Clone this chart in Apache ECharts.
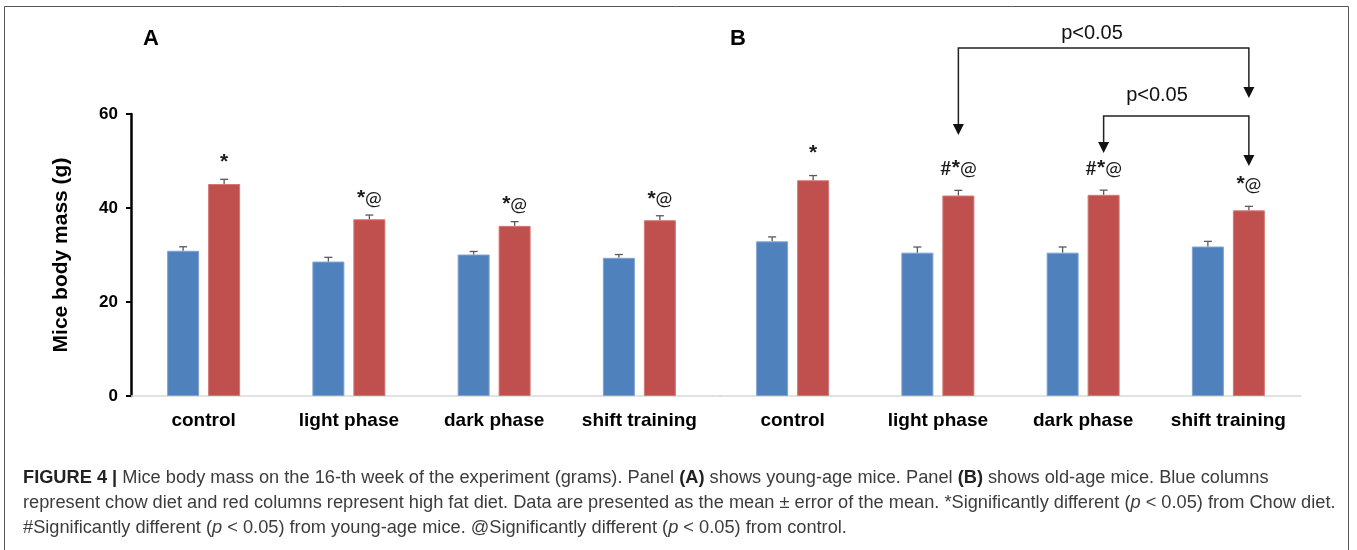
<!DOCTYPE html>
<html>
<head>
<meta charset="utf-8">
<script src="https://cdn.jsdelivr.net/npm/echarts@6/dist/echarts.min.js"></script>
<style>
html,body{margin:0;padding:0;background:#fff;}
#chart{width:1357px;height:550px;}
</style>
</head>
<body>
<div id="chart"></div>
<script>
// ---- data ----
const categories = ['control', 'light phase', 'dark phase', 'shift training'];
const yTicks = [0, 20, 40, 60];
// Panel A: young-age mice
const youngChow = [30.9, 28.6, 30.1, 29.4];
const youngChowErr = [0.85, 0.9, 0.65, 0.7];
const youngHFD = [45.1, 37.6, 36.2, 37.4];
const youngHFDErr = [1.0, 0.9, 0.9, 0.95];
const youngMarks = ['*', '*@', '*@', '*@'];
// Panel B: old-age mice
const oldChow = [32.9, 30.5, 30.5, 31.8];
const oldChowErr = [0.95, 1.2, 1.2, 1.1];
const oldHFD = [45.9, 42.65, 42.8, 39.5];
const oldHFDErr = [1.0, 1.1, 1.0, 0.85];
const oldMarks = ['*', '#*@', '#*@', '*@'];
const bracketLabel = 'p<0.05';

const captionLines = [
  '{b|FIGURE 4 |} Mice body mass on the 16-th week of the experiment (grams). Panel {b|(A)} shows young-age mice. Panel {b|(B)} shows old-age mice. Blue columns',
  'represent chow diet and red columns represent high fat diet. Data are presented as the mean ± error of the mean. *Significantly different ({i|p} < 0.05) from Chow diet.',
  '#Significantly different ({i|p} < 0.05) from young-age mice. @Significantly different ({i|p} < 0.05) from control.'
];

// ---- style ----
const BLUE = '#4F81BD', RED = '#C0504D';
const BAR_W = 32, GAP_PX = 9;
const HALF = (BAR_W + GAP_PX) / 2;
const GRID_TOP = 114, GRID_H = 282, GRID_W = 581;
const MARK_FONT = 'Lato, "Open Sans", sans-serif';
const STAR_FONT = '"Liberation Sans", Arial, sans-serif';

const chart = echarts.init(document.getElementById('chart'), null, {renderer: 'canvas'});

function errSeries(axis, vals, errs, side, marks, gap) {
  return {
    type: 'custom',
    xAxisIndex: axis, yAxisIndex: axis,
    z: 5,
    data: vals.map((v, i) => [i, v, errs[i]]),
    encode: {x: 0, y: 1},
    renderItem: function (params, api) {
      const i = api.value(0), v = api.value(1), e = api.value(2);
      const p0 = api.coord([i, v]);
      const p1 = api.coord([i, v + e]);
      const x = p0[0] + side * HALF;
      const children = [
        {type: 'line', shape: {x1: x, y1: p0[1], x2: x, y2: p1[1]}, style: {stroke: '#595959', lineWidth: 1.3}},
        {type: 'line', shape: {x1: x - 4, y1: p1[1], x2: x + 4, y2: p1[1]}, style: {stroke: '#595959', lineWidth: 1.3}}
      ];
      const m = marks ? marks[params.dataIndex] : '';
      if (m) {
        children.push({type: 'text', style: {
          text: m.replace(/\*/g, '{s|*}'), x: x, y: p1[1] - gap, align: 'center', verticalAlign: 'middle',
          fill: '#1a1a1a', fontSize: 20, fontFamily: MARK_FONT,
          rich: {s: {fontSize: 21, fontWeight: 'bold', fontFamily: STAR_FONT, fill: '#1a1a1a', verticalAlign: 'top'}}
        }});
      }
      return {type: 'group', children: children};
    }
  };
}

function barSeries(axis, vals, color, border) {
  return {
    type: 'bar', xAxisIndex: axis, yAxisIndex: axis,
    data: vals, barWidth: BAR_W, barGap: (GAP_PX / BAR_W * 100).toFixed(1) + '%',
    itemStyle: {color: color, borderColor: border, borderWidth: 1},
    silent: true
  };
}

const xAxisCommon = {
  type: 'category', data: categories,
  axisLine: {lineStyle: {color: '#d9d9d9', width: 1.5}},
  axisTick: {show: false},
  axisLabel: {color: '#000', fontWeight: 'bold', fontSize: 19, fontFamily: 'Liberation Sans, Arial, sans-serif', margin: 15, interval: 0}
};

const option = {
  animation: false,
  backgroundColor: '#fff',
  grid: [
    {left: 131, top: GRID_TOP, width: GRID_W, height: GRID_H},
    {left: 720, top: GRID_TOP, width: GRID_W, height: GRID_H}
  ],
  xAxis: [
    Object.assign({gridIndex: 0}, xAxisCommon),
    Object.assign({gridIndex: 1}, xAxisCommon)
  ],
  yAxis: [
    {
      gridIndex: 0, type: 'value', min: yTicks[0], max: yTicks[yTicks.length - 1], interval: 20,
      name: 'Mice body mass (g)', nameLocation: 'middle', nameGap: 59,
      nameTextStyle: {color: '#000', fontWeight: 'bold', fontSize: 21, fontFamily: 'Liberation Sans, Arial, sans-serif'},
      axisLine: {show: true, lineStyle: {color: '#000', width: 2.5}},
      axisTick: {show: true, length: 5, lineStyle: {color: '#000', width: 2}},
      axisLabel: {color: '#000', fontWeight: 'bold', fontSize: 17, fontFamily: 'Liberation Sans, Arial, sans-serif', margin: 13},
      splitLine: {show: false}
    },
    {
      gridIndex: 1, type: 'value', min: yTicks[0], max: yTicks[yTicks.length - 1], interval: 20, show: false,
      splitLine: {show: false}
    }
  ],
  series: [
    barSeries(0, youngChow, BLUE, '#7ea3d3'),
    barSeries(0, youngHFD, RED, '#d27875'),
    errSeries(0, youngChow, youngChowErr, -1, null, 0),
    errSeries(0, youngHFD, youngHFDErr, 1, youngMarks, 17),
    barSeries(1, oldChow, BLUE, '#7ea3d3'),
    barSeries(1, oldHFD, RED, '#d27875'),
    errSeries(1, oldChow, oldChowErr, -1, null, 0),
    errSeries(1, oldHFD, oldHFDErr, 1, oldMarks, 22)
  ]
};
chart.setOption(option);

// ---- annotations: brackets, panel labels, caption, frame ----
function redX(axis, idx) {
  return chart.convertToPixel({xAxisIndex: axis}, idx) + HALF;
}
function arrowHead(x, tipY) {
  return {type: 'polygon', shape: {points: [[x - 5.5, tipY - 11], [x + 5.5, tipY - 11], [x, tipY]]}, style: {fill: '#111'}};
}
function bracket(lx, rx, hY, lTip, rTip) {
  return [
    {type: 'polyline', shape: {points: [[lx, lTip - 10], [lx, hY], [rx, hY], [rx, rTip - 10]]}, style: {stroke: '#222', lineWidth: 1.5, fill: null}},
    arrowHead(lx, lTip), arrowHead(rx, rTip)
  ];
}
const l1 = redX(1, 1), r1 = redX(1, 3), l2 = redX(1, 2);
const baseY = chart.convertToPixel({yAxisIndex: 0}, 0);

// caption font sizing to the reference line width
const capFont = '"Liberation Sans", Arial, sans-serif';
const ctx = document.createElement('canvas').getContext('2d');
ctx.font = '100px ' + capFont;
const plain2 = captionLines[1].replace(/\{[a-z]+\|([^}]*)\}/g, '$1');
const capSize = Math.max(14, Math.min(19, 100 * 1313 / ctx.measureText(plain2).width));

const graphics = [
  {type: 'rect', shape: {x: 4.5, y: 6.5, width: 1344, height: 700}, style: {fill: null, stroke: '#555', lineWidth: 1}, silent: true},
  {type: 'line', shape: {x1: 131 + GRID_W, y1: baseY, x2: 721, y2: baseY}, style: {stroke: '#d9d9d9', lineWidth: 1.5}, silent: true},
  {type: 'text', style: {text: 'A', x: 151, y: 39, align: 'center', verticalAlign: 'middle', fill: '#000', font: 'bold 22px "Liberation Sans", Arial, sans-serif'}},
  {type: 'text', style: {text: 'B', x: 738, y: 39, align: 'center', verticalAlign: 'middle', fill: '#000', font: 'bold 22px "Liberation Sans", Arial, sans-serif'}},
  ...bracket(l1, r1, 48, 135, 98),
  ...bracket(l2, r1, 116, 153, 166),
  {type: 'text', style: {text: bracketLabel, x: 1092, y: 33, align: 'center', verticalAlign: 'middle', fill: '#111', font: '20px "Liberation Sans", Arial, sans-serif'}},
  {type: 'text', style: {text: bracketLabel, x: 1157, y: 95, align: 'center', verticalAlign: 'middle', fill: '#111', font: '20px "Liberation Sans", Arial, sans-serif'}}
];
captionLines.forEach((t, k) => {
  graphics.push({type: 'text', style: {
    text: t, x: 23, y: 478 + k * 25, align: 'left', verticalAlign: 'middle',
    fill: '#3c3c3c', fontSize: capSize, fontFamily: capFont,
    rich: {
      b: {fontWeight: 'bold', fill: '#222', fontSize: capSize, fontFamily: capFont},
      i: {fontStyle: 'italic', fill: '#3c3c3c', fontSize: capSize, fontFamily: capFont}
    }
  }});
});
chart.setOption({graphic: graphics});
</script>
</body>
</html>
